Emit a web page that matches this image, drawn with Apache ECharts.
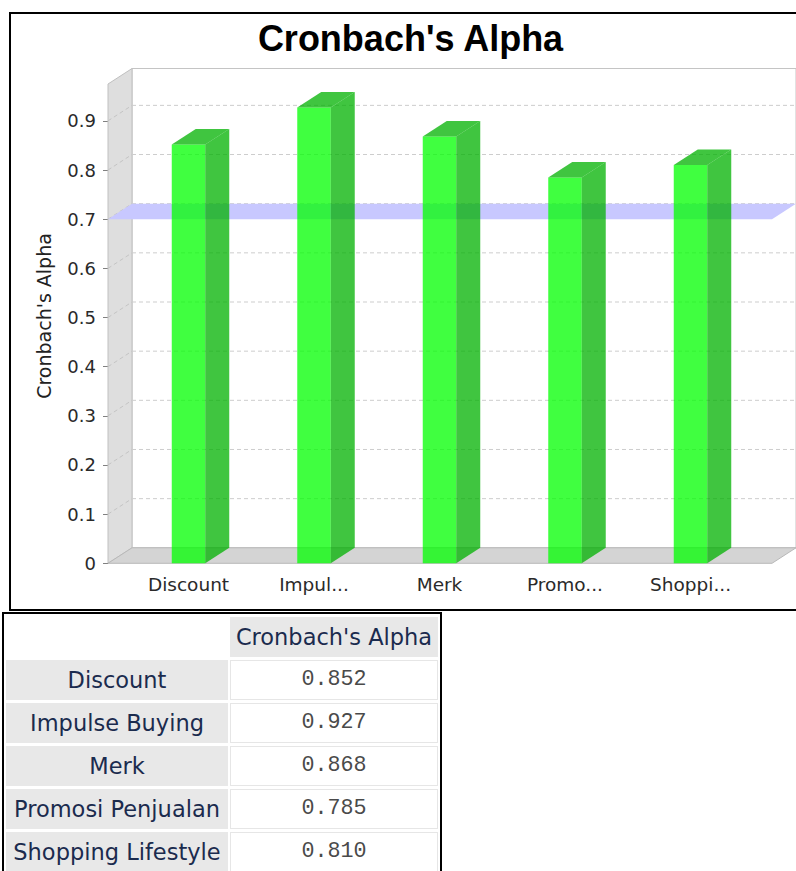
<!DOCTYPE html>
<html>
<head>
<meta charset="utf-8">
<script src="https://cdn.jsdelivr.net/npm/echarts@6/dist/echarts.min.js"></script>
<style>
html, body { margin:0; padding:0; width:796px; height:871px; overflow:hidden; background:#fff; }
#chart { position:absolute; left:0; top:0; width:821px; height:612px; }
#tbl { position:absolute; left:2px; top:611.5px; border:2px solid #000; border-bottom:none;
       border-collapse:separate; border-spacing:2px 3.5px; }
#tbl td { box-sizing:border-box; height:40px; padding:0; text-align:center; vertical-align:middle; white-space:nowrap; }
#tbl td.empty { width:222px; background:#fff; }
#tbl td.lab { width:222px; background:#e8e8e8; font-family:'DejaVu Sans'; font-size:22.5px; color:#1b2b4e; }
#tbl td.hdr { width:208px; background:#e8e8e8; font-family:'DejaVu Sans'; font-size:22.5px; color:#1b2b4e; }
#tbl td.val { width:208px; background:#fff; border:1px solid #e6e6e6; font-family:'Liberation Mono'; font-size:21.7px; color:#4a4a4a; }
</style>
</head>
<body>
<div id="chart"></div>
<table id="tbl"><tbody id="tb"></tbody></table>
<script>
// ---- data ----
const categories = ['Discount', 'Impulse Buying', 'Merk', 'Promosi Penjualan', 'Shopping Lifestyle'];
const axisLabels = ['Discount', 'Impul...', 'Merk', 'Promo...', 'Shoppi...'];
const alphaValues = [0.852, 0.927, 0.868, 0.785, 0.810];
const yTicks = [0, 0.1, 0.2, 0.3, 0.4, 0.5, 0.6, 0.7, 0.8, 0.9];
const thresholdValue = 0.7;
const seriesName = "Cronbach's Alpha";

// ---- 3D look constants ----
const DX = 24, DY = 15.5, PAD_L = 17.75, PAD_R = 18.75, BAR_W = 33.5;
const FONT = 'DejaVu Sans';

const chart = echarts.init(document.getElementById('chart'), null, { renderer: 'svg' });

const option = {
  animation: false,
  title: {
    text: seriesName, left: 'center', top: 20, padding: 0,
    textStyle: { fontFamily: 'Liberation Sans', fontWeight: 'bold', fontSize: 36, color: '#000' }
  },
  grid: { left: 125.75, width: 627.5, top: 84, bottom: 48.7, containLabel: false },
  xAxis: {
    type: 'category', data: axisLabels,
    axisLine: { show: false }, axisTick: { show: false },
    axisLabel: { interval: 0, margin: 12, fontFamily: FONT, fontSize: 18.5, color: '#2a2a2a' },
    splitLine: { show: false }
  },
  yAxis: {
    type: 'value', min: 0, max: 0.975, interval: 0.1, offset: 17.75,
    axisLine: { show: false },
    axisTick: { show: true, length: 5, customValues: yTicks, lineStyle: { color: '#808080' } },
    axisLabel: { margin: 12, customValues: yTicks, fontFamily: FONT, fontSize: 18, color: '#2a2a2a' },
    splitLine: { show: false }
  },
  graphic: [
    { type: 'rect', silent: true, z: 100, shape: { x: 10, y: 13, width: 801, height: 597 },
      style: { fill: 'none', stroke: '#000', lineWidth: 2 } },
    { type: 'text', silent: true, x: 43.5, y: 316, rotation: Math.PI / 2,
      style: { text: seriesName, fontFamily: FONT, fontSize: 19, fill: '#222',
               align: 'center', verticalAlign: 'middle', textAlign: 'center', textVerticalAlign: 'middle' } }
  ],
  series: [
    {
      type: 'custom', silent: true, z: 1, clip: false,
      data: [[0, 0]],
      renderItem: function (params, api) {
        const cs = params.coordSys;
        const L = cs.x - PAD_L, R = cs.x + cs.width + PAD_R;
        const yTop = cs.y;
        const y0 = api.coord([0, 0])[1];
        const ch = [];
        // back wall
        ch.push({ type: 'rect', shape: { x: L + DX, y: yTop - DY, width: R - L, height: y0 - yTop },
                  style: { fill: '#fff', stroke: '#c4c4c4', lineWidth: 1 } });
        // left wall
        ch.push({ type: 'polygon', shape: { points: [[L, yTop], [L + DX, yTop - DY], [L + DX, y0 - DY], [L, y0]] },
                  style: { fill: '#dedede', stroke: '#c0c0c0', lineWidth: 1 } });
        // gridlines
        yTicks.forEach(function (v) {
          if (v === 0) return;
          const y = api.coord([0, v])[1];
          ch.push({ type: 'line', shape: { x1: L + DX, y1: y - DY, x2: R + DX, y2: y - DY },
                    style: { stroke: '#cdcdcd', lineWidth: 1, lineDash: [4, 3] } });
          ch.push({ type: 'line', shape: { x1: L, y1: y, x2: L + DX, y2: y - DY },
                    style: { stroke: '#c4c4c4', lineWidth: 1, lineDash: [4, 3] } });
        });
        // floor
        ch.push({ type: 'polygon', shape: { points: [[L, y0], [L + DX, y0 - DY], [R + DX, y0 - DY], [R, y0]] },
                  style: { fill: '#d4d4d4', stroke: '#b8b8b8', lineWidth: 1 } });
        // threshold marker plane
        const ym = api.coord([0, thresholdValue])[1];
        ch.push({ type: 'polygon', shape: { points: [[L, ym], [L + DX, ym - DY], [R + DX, ym - DY], [R, ym]] },
                  style: { fill: '#c8c8ff' } });
        return { type: 'group', children: ch };
      }
    },
    {
      type: 'custom', name: seriesName, z: 3, clip: false,
      data: alphaValues.map(function (v, i) { return [i, v]; }),
      encode: { x: 0, y: 1 },
      renderItem: function (params, api) {
        const top = api.coord([api.value(0), api.value(1)]);
        const base = api.coord([api.value(0), 0]);
        const xl = top[0] - BAR_W / 2, xr = top[0] + BAR_W / 2;
        const front = 'rgba(0,255,0,0.75)', dark = 'rgba(0,178,0,0.75)';
        return { type: 'group', children: [
          { type: 'rect', shape: { x: xl, y: top[1], width: BAR_W, height: base[1] - top[1] }, style: { fill: front } },
          { type: 'polygon', shape: { points: [[xr, base[1]], [xr + DX, base[1] - DY], [xr + DX, top[1] - DY], [xr, top[1]]] }, style: { fill: dark } },
          { type: 'polygon', shape: { points: [[xl, top[1]], [xl + DX, top[1] - DY], [xr + DX, top[1] - DY], [xr, top[1]]] }, style: { fill: dark } }
        ] };
      }
    }
  ]
};
chart.setOption(option);

// ---- table ----
const tb = document.getElementById('tb');
let html = '<tr><td class="empty"></td><td class="hdr">' + seriesName + '</td></tr>';
categories.forEach(function (c, i) {
  html += '<tr><td class="lab">' + c + '</td><td class="val">' + alphaValues[i].toFixed(3) + '</td></tr>';
});
tb.innerHTML = html;
</script>
</body>
</html>
